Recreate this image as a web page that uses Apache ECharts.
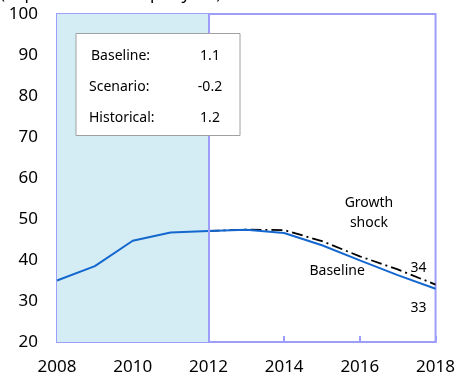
<!DOCTYPE html>
<html>
<head>
<meta charset="utf-8">
<script src="https://cdn.jsdelivr.net/npm/echarts@6/dist/echarts.min.js"></script>
<style>
  html, body { margin: 0; padding: 0; background: #fff; }
  #chart { width: 458px; height: 377px; }
</style>
</head>
<body>
<div id="chart"></div>
<script>
// Years on the horizontal axis
const years = [2008, 2009, 2010, 2011, 2012, 2013, 2014, 2015, 2016, 2017, 2018];
// Debt path under the baseline
const baseline = [35.0, 38.5, 44.7, 46.7, 47.1, 47.4, 46.6, 43.6, 39.9, 36.3, 33];
// Debt path under the growth shock scenario (projection years only)
const growthShock = [null, null, null, null, 47.1, 47.4, 47.3, 44.6, 40.9, 37.7, 34];
// Historical period shading
const historicalSpan = [2008, 2012];
// Growth assumptions shown in the box
const boxLabels = ['Baseline:', 'Scenario:', 'Historical:'];
const boxValues = ['1.1', '-0.2', '1.2'];

const FONT = 'Noto Sans';
const AXIS = '#9d9dfb';

const chart = echarts.init(document.getElementById('chart'));

const pairs = (ys) => years.map((x, i) => [x, ys[i]]);

chart.setOption({
  animation: false,
  grid: {
    left: 57, right: 21, top: 14, bottom: 35,
    show: true, borderColor: AXIS, borderWidth: 2, backgroundColor: 'transparent'
  },
  xAxis: {
    type: 'value', min: 2008, max: 2018, interval: 2,
    axisLine: { lineStyle: { color: AXIS, width: 2 } },
    axisTick: { inside: true, length: 6, lineStyle: { color: AXIS, width: 2 } },
    axisLabel: { color: '#000', fontFamily: FONT, fontSize: 17, margin: 17,
                 formatter: (v) => String(v) },
    splitLine: { show: false }
  },
  yAxis: {
    type: 'value', min: 20, max: 100, interval: 10,
    axisLine: { show: true, lineStyle: { color: AXIS, width: 2 } },
    axisTick: { show: true, inside: true, length: 6, lineStyle: { color: AXIS, width: 2 } },
    axisLabel: { color: '#000', fontFamily: FONT, fontSize: 17, margin: 19 },
    splitLine: { show: false }
  },
  series: [
    {
      name: 'Baseline', type: 'line', data: pairs(baseline),
      symbol: 'none', z: 3,
      lineStyle: { color: '#1467cf', width: 2 },
      markArea: {
        silent: true,
        itemStyle: { color: '#d4edf4' },
        data: [[{ xAxis: historicalSpan[0] }, { xAxis: historicalSpan[1] }]]
      },
      markLine: {
        silent: true, symbol: 'none', label: { show: false },
        lineStyle: { color: AXIS, width: 2, type: 'solid' },
        data: [{ xAxis: historicalSpan[1] }]
      }
    },
    {
      name: 'Growth shock', type: 'line', data: pairs(growthShock),
      symbol: 'none', z: 2, connectNulls: false,
      lineStyle: { color: '#000', width: 1.8, type: [11, 4, 2, 4] }
    }
  ]
});

// Text annotations placed in data coordinates
function at(x, y) { return chart.convertToPixel({ gridIndex: 0 }, [x, y]); }
const notes = [
  { text: 'Growth\nshock', pos: at(2016.24, 51.4), lh: 20 },
  { text: 'Baseline', pos: at(2015.4, 37.2), lh: 18 },
  { text: String(Math.round(growthShock[10])), pos: at(2017.55, 38.0), lh: 18 },
  { text: String(Math.round(baseline[10])), pos: at(2017.55, 28.2), lh: 18 }
];

const graphics = notes.map(n => ({
  type: 'text', x: n.pos[0], y: n.pos[1], z: 10,
  style: { text: n.text, fill: '#000', font: '14px "' + FONT + '"',
           textAlign: 'center', textVerticalAlign: 'middle', lineHeight: n.lh }
}));

// Assumption box
graphics.push({
  type: 'rect', shape: { x: 76, y: 33.5, width: 164, height: 102 }, z: 10,
  style: { fill: '#fff', stroke: '#a0a0a0', lineWidth: 1 }
});
boxLabels.forEach((lab, i) => {
  const y = 56 + i * 31;
  graphics.push({
    type: 'text', x: i === 0 ? 91 : 89, y: y, z: 11,
    style: { text: lab, fill: '#000', font: '14px "' + FONT + '"', textVerticalAlign: 'middle' }
  });
  graphics.push({
    type: 'text', x: 210, y: y, z: 11,
    style: { text: boxValues[i], fill: '#000', font: '14px "' + FONT + '"',
             textAlign: 'center', textVerticalAlign: 'middle' }
  });
});

// Subtitle line running off the top edge
graphics.push({
  type: 'text', x: 0, y: 3, z: 10,
  style: { text: '(in percent of GDP per year)', fill: '#000', font: '17px "' + FONT + '"',
           textVerticalAlign: 'bottom' }
});

chart.setOption({ graphic: graphics });
</script>
</body>
</html>
